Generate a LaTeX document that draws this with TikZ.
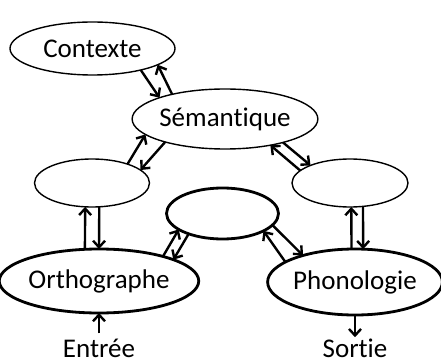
\documentclass[tikz,border=0pt]{standalone}
\usepackage{fontspec}
\setmainfont{Carlito}[Ligatures={NoCommon}]
\usetikzlibrary{arrows.meta,shapes.geometric}
\begin{document}
\begin{tikzpicture}[x=1pt,y=-1pt,
  ell/.style={draw, ellipse, inner sep=0pt, outer sep=0pt, line width=1.4pt,
    font=\fontsize{27}{30}\selectfont},
  thickell/.style={ell, line width=2.8pt},
  conn/.style={line width=2.4pt, -{Straight Barb[length=6.5pt,width=12pt]}},
  lbl/.style={font=\fontsize{27}{30}\selectfont, inner sep=0pt}]
\useasboundingbox (0,0) rectangle (441,363);
\node[ell, minimum width=165pt, minimum height=53pt] (ctx) at (92.5,48.5) {Contexte};
\node[ell, minimum width=164pt, minimum height=60pt] (sem) at (225,119) {Sémantique};
\node[ell, minimum width=115pt, minimum height=48pt] (L) at (92,183) {};
\node[ell, minimum width=116pt, minimum height=48pt] (R) at (350,183) {};
\node[thickell, minimum width=112pt, minimum height=51pt] (M) at (222.5,213.5) {};
\node[thickell, minimum width=178pt, minimum height=64pt] (O) at (99,281) {Orthographe};
\node[thickell, minimum width=172pt, minimum height=66pt] (P) at (355,282) {Phonologie};
\node[lbl, anchor=base] (in) at (99,357) {Entrée};
\node[lbl, anchor=base] (out) at (355,357) {Sortie};
% Contexte <-> Semantique
\draw[conn] (ctx.-24.3) -- (sem.162.1);
\draw[conn] (sem.155.2) -- (ctx.-14.6);
% Semantique <-> L
\draw[conn] (L.28.8) -- (sem.191.8);
\draw[conn] (sem.201.3) -- (L.15.8);
% Semantique <-> R
\draw[conn] (R.166.2) -- (sem.-30);
\draw[conn] (sem.-22) -- (R.156.8);
% L <-> Orthographe
\draw[conn] (O.114.3) -- (L.-106.3);
\draw[conn] (L.-73.7) -- (O.90);
% R <-> Phonologie
\draw[conn] (P.96.9) -- (R.-87.6);
\draw[conn] (R.-61.6) -- (P.76.4);
% M <-> Orthographe
\draw[conn] (O.21.3) -- (M.200.3);
\draw[conn] (M.211) -- (O.16.5);
% M <-> Phonologie
\draw[conn] (P.164.3) -- (M.-23.7);
\draw[conn] (M.-13.9) -- (P.153.4);
% input / output
\draw[conn, shorten <=5pt] (in.north) -- (O.south);
\draw[conn, shorten >=1pt] (P.south) -- (out.north);
\end{tikzpicture}
\end{document}
